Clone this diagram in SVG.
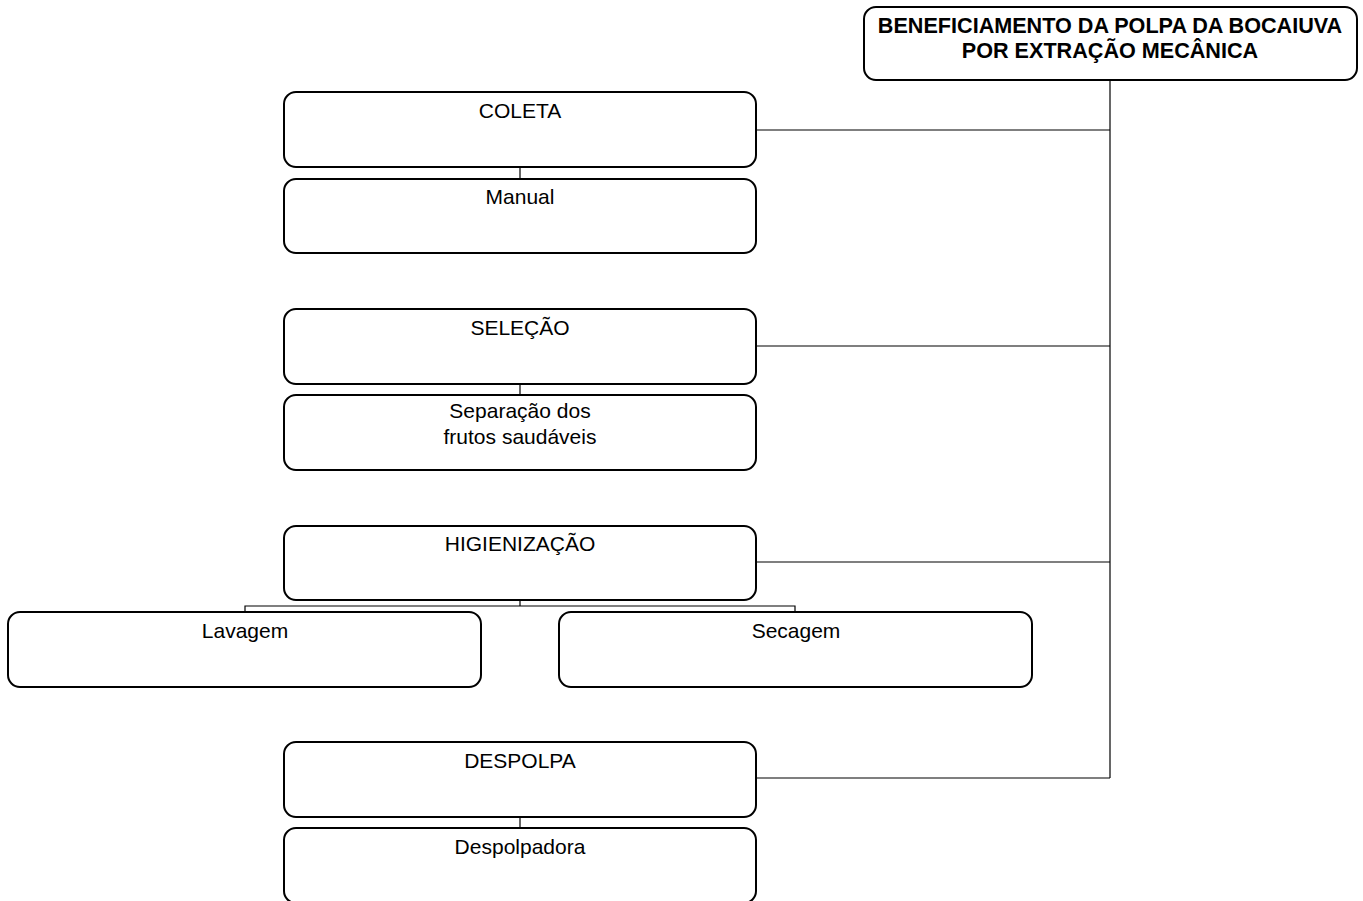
<svg xmlns="http://www.w3.org/2000/svg" width="1363" height="901" viewBox="0 0 1363 901">
<style>
.box{fill:#fff;stroke:#000;stroke-width:2}
.t{font-family:"Liberation Sans",Arial,sans-serif;font-size:21px;fill:#000;text-anchor:middle}
.b{font-weight:bold;font-size:21.6px}
.c{fill:none;stroke:#000;stroke-width:1.2}
</style>
<rect width="1363" height="901" fill="#fff"/>
<g id="connectors">
<path class="c" d="M1110 80V778"/>
<path class="c" d="M756 130H1110"/>
<path class="c" d="M756 346H1110"/>
<path class="c" d="M756 562H1110"/>
<path class="c" d="M756 778H1110"/>
<path class="c" d="M520 167V179"/>
<path class="c" d="M520 384V395"/>
<path class="c" d="M520 600V606M245 612V606H795V612"/>
<path class="c" d="M520 817V828"/>
</g>
<g id="title"><rect class="box" x="864" y="7" width="493" height="73" rx="12"/>
<text class="t b" x="1110" y="33">BENEFICIAMENTO DA POLPA DA BOCAIUVA</text>
<text class="t b" x="1110" y="58">POR EXTRAÇÃO MECÂNICA</text></g>
<g id="coleta"><rect class="box" x="284" y="92" width="472" height="75" rx="12"/><text class="t" x="520" y="118">COLETA</text></g>
<g id="manual"><rect class="box" x="284" y="179" width="472" height="74" rx="12"/><text class="t" x="520" y="204">Manual</text></g>
<g id="selecao"><rect class="box" x="284" y="309" width="472" height="75" rx="12"/><text class="t" x="520" y="335">SELEÇÃO</text></g>
<g id="separacao"><rect class="box" x="284" y="395" width="472" height="75" rx="12"/><text class="t" x="520" y="418">Separação dos</text><text class="t" x="520" y="444">frutos saudáveis</text></g>
<g id="higienizacao"><rect class="box" x="284" y="526" width="472" height="74" rx="12"/><text class="t" x="520" y="551">HIGIENIZAÇÃO</text></g>
<g id="lavagem"><rect class="box" x="8" y="612" width="473" height="75" rx="12"/><text class="t" x="245" y="638">Lavagem</text></g>
<g id="secagem"><rect class="box" x="559" y="612" width="473" height="75" rx="12"/><text class="t" x="796" y="638">Secagem</text></g>
<g id="despolpa"><rect class="box" x="284" y="742" width="472" height="75" rx="12"/><text class="t" x="520" y="768">DESPOLPA</text></g>
<g id="despolpadora"><rect class="box" x="284" y="828" width="472" height="75" rx="12"/><text class="t" x="520" y="854">Despolpadora</text></g>
</svg>
